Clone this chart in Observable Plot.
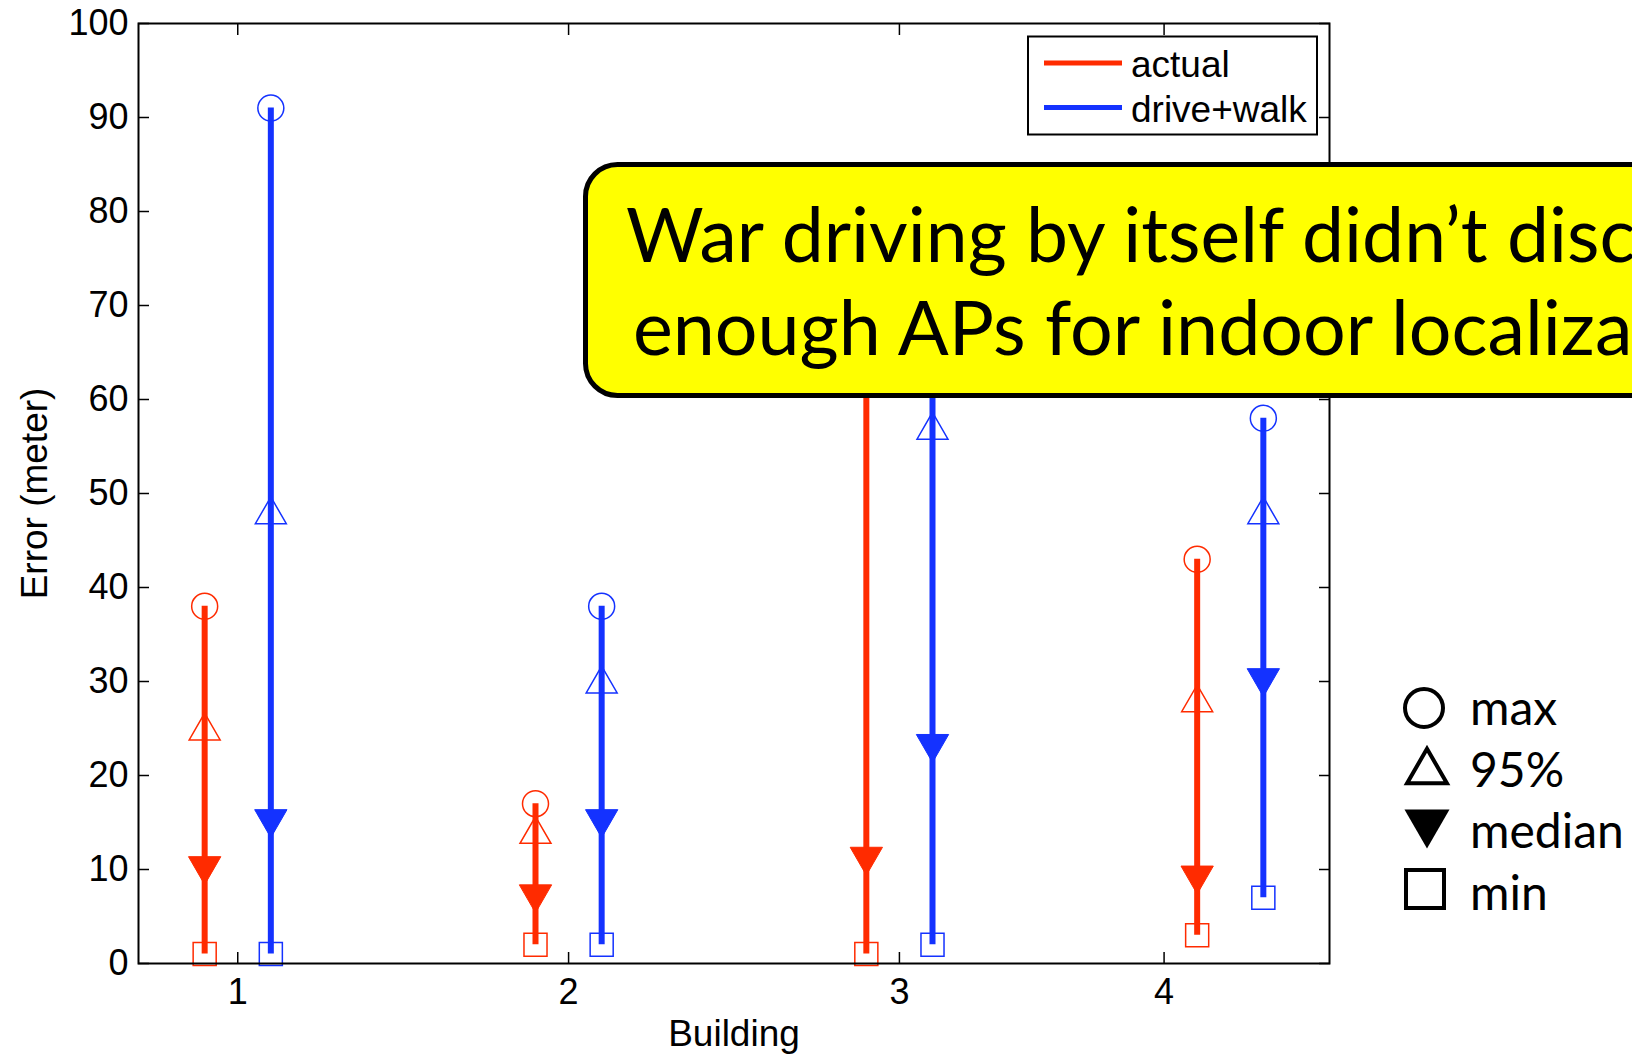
<!DOCTYPE html>
<html>
<head>
<meta charset="utf-8">
<script src="https://cdn.jsdelivr.net/npm/d3@7"></script>
<script src="https://cdn.jsdelivr.net/npm/@observablehq/plot@0.6"></script>
<style>
  html, body { margin: 0; padding: 0; background: #fff; }
  #wrap { position: relative; width: 1632px; height: 1054px; overflow: hidden; background: #fff; }
  #wrap > svg { position: absolute; left: 0; top: 0; }
</style>
</head>
<body>
<div id="wrap"></div>
<script>
// ---- data ----
const buildings = [1, 2, 3, 4];
const seriesNames = ["actual", "drive+walk"];
const seriesColors = ["#ff2b00", "#1432ff"];
const actualMax = [38, 17, 82, 43];
const actual95 = [25, 14, 71, 28];
const actualMedian = [10, 7, 11, 9];
const actualMin = [1, 2, 1, 3];
const driveWalkMax = [91, 38, 74, 58];
const driveWalk95 = [48, 30, 57, 48];
const driveWalkMedian = [15, 15, 23, 30];
const driveWalkMin = [1, 2, 2, 7];
const xTickValues = [1, 2, 3, 3.8];
const xTickLabels = ["1", "2", "3", "4"];
const yTicks = [0, 10, 20, 30, 40, 50, 60, 70, 80, 90, 100];
const xLabel = "Building";
const yLabel = "Error (meter)";
const statNames = ["max", "95%", "median", "min"];
const calloutLines = ["War driving by itself didn\u2019t discover", "enough APs for indoor localization"];

// ---- table ----
const seriesOffset = {"actual": -0.1, "drive+walk": 0.1};
const stats = {
  "actual": {max: actualMax, p95: actual95, median: actualMedian, min: actualMin},
  "drive+walk": {max: driveWalkMax, p95: driveWalk95, median: driveWalkMedian, min: driveWalkMin}
};
const rows = [];
seriesNames.forEach(s => {
  buildings.forEach((b, i) => {
    rows.push({
      building: b, series: s, x: b + seriesOffset[s],
      max: stats[s].max[i], p95: stats[s].p95[i],
      median: stats[s].median[i], min: stats[s].min[i]
    });
  });
});

const W = 1632, H = 1054;
const axisFont = "'Liberation Sans', Arial, Helvetica, sans-serif";

const chart = Plot.plot({
  width: W, height: H,
  marginLeft: 138, marginRight: 303, marginTop: 23, marginBottom: 91,
  style: {fontFamily: axisFont, fontSize: "36px", background: "transparent", color: "#000"},
  x: {domain: [0.7, 4.3], label: null},
  y: {domain: [0, 100], label: null},
  color: {domain: seriesNames, range: seriesColors},
  marks: [
    Plot.ruleX(rows, {x: "x", y1: "min", y2: "max", stroke: "series", strokeWidth: 6}),
    Plot.dot(rows, {x: "x", y: "max", symbol: "circle", r: 13, stroke: "series", fill: "none", strokeWidth: 1.5}),
    Plot.dot(rows, {x: "x", y: "p95", symbol: "triangle", r: 11.5, dy: 2.5, stroke: "series", fill: "none", strokeWidth: 1.5}),
    Plot.dot(rows, {x: "x", y: "median", symbol: "triangle", rotate: 180, r: 12, dy: -3.5, stroke: "series", fill: "series", strokeWidth: 1}),
    Plot.dot(rows, {x: "x", y: "min", symbol: "square", r: 13, stroke: "series", fill: "none", strokeWidth: 1.5}),
    Plot.frame({stroke: "#000", strokeWidth: 2}),
    Plot.axisY(yTicks, {anchor: "left", tickSize: -11, tickPadding: 21, label: null, stroke: "#000", strokeWidth: 1.5}),
    Plot.axisY(yTicks, {anchor: "right", tickSize: -11, tickFormat: () => "", label: null, stroke: "#000", strokeWidth: 1.5}),
    Plot.axisX(xTickValues, {anchor: "bottom", tickSize: -11, tickPadding: 26, label: null, stroke: "#000", strokeWidth: 1.5,
      tickFormat: d => xTickLabels[xTickValues.indexOf(d)]}),
    Plot.axisX(xTickValues, {anchor: "top", tickSize: -11, tickFormat: () => "", label: null, stroke: "#000", strokeWidth: 1.5}),
    Plot.text([xLabel], {frameAnchor: "bottom", dy: 82, text: d => d, fontSize: 37, fill: "#000", textAnchor: "middle"}),
    Plot.text([yLabel], {frameAnchor: "left", dx: -103.5, rotate: -90, text: d => d, fontSize: 37, fill: "#000", textAnchor: "middle", lineAnchor: "middle"})
  ]
});

const wrap = document.getElementById("wrap");
wrap.appendChild(chart);

// ---- overlay: legend, callout, symbol key ----
const svg = d3.select(wrap).append("svg")
  .attr("width", W).attr("height", H)
  .style("overflow", "hidden");

// series legend box
const lg = svg.append("g");
lg.append("rect").attr("x", 1028).attr("y", 36.5).attr("width", 289).attr("height", 98)
  .attr("fill", "#fff").attr("stroke", "#000").attr("stroke-width", 2);
seriesNames.forEach((s, i) => {
  const cy = 63 + i * 44.5;
  lg.append("line").attr("x1", 1044).attr("x2", 1122).attr("y1", cy).attr("y2", cy)
    .attr("stroke", seriesColors[i]).attr("stroke-width", 5);
  lg.append("text").attr("x", 1131).attr("y", cy + 14)
    .style("font-family", axisFont).style("font-size", "37px").attr("fill", "#000").text(s);
});

// callout
const co = svg.append("g");
co.append("rect").attr("x", 585.5).attr("y", 164.5).attr("width", 1300).attr("height", 231)
  .attr("rx", 32).attr("ry", 32).attr("fill", "#ffff00").attr("stroke", "#000").attr("stroke-width", 5);
const calloutPos = [{x: 626, y: 262, prefix: "War driving by itself didn\u2019t ", target: 881},
                    {x: 633, y: 355, prefix: "enough APs for indoor ", target: 758}];
calloutLines.forEach((line, i) => {
  const p = calloutPos[i];
  const t = co.append("text").attr("x", p.x).attr("y", p.y)
    .style("font-family", "Lato, 'Open Sans', sans-serif").style("font-size", "76px")
    .attr("fill", "#000").text(line);
  const node = t.node();
  const full = node.getComputedTextLength();
  const pre = node.getSubStringLength(0, p.prefix.length);
  if (pre > 0) t.attr("textLength", full * p.target / pre).attr("lengthAdjust", "spacingAndGlyphs");
});

// symbol key
const key = svg.append("g");
const keyX = 1425;
const keyRows = [708, 766, 829, 889];
const keyBase = [725, 787, 848, 910];
// max: circle
key.append("circle").attr("cx", keyX - 1).attr("cy", keyRows[0]).attr("r", 19)
  .attr("fill", "none").attr("stroke", "#000").attr("stroke-width", 4);
// 95%: triangle up
{
  const yy = 11.5, size = 3 * Math.sqrt(3) * yy * yy;
  key.append("path").attr("d", d3.symbol(d3.symbolTriangle, size)())
    .attr("transform", `translate(${keyX + 2},${keyRows[1] + yy / 2})`)
    .attr("fill", "none").attr("stroke", "#000").attr("stroke-width", 4).attr("stroke-linejoin", "miter");
}
// median: triangle down filled
{
  const yy = 13, size = 3 * Math.sqrt(3) * yy * yy;
  key.append("path").attr("d", d3.symbol(d3.symbolTriangle, size)())
    .attr("transform", `translate(${keyX + 2},${keyRows[2] - yy / 2}) rotate(180)`)
    .attr("fill", "#000").attr("stroke", "none");
}
// min: square
key.append("rect").attr("x", keyX - 19).attr("y", keyRows[3] - 19).attr("width", 38).attr("height", 38)
  .attr("fill", "none").attr("stroke", "#000").attr("stroke-width", 4);
statNames.forEach((s, i) => {
  key.append("text").attr("x", 1470).attr("y", keyBase[i])
    .style("font-family", "Lato, 'Open Sans', sans-serif").style("font-size", "48px")
    .attr("fill", "#000").text(s);
});
</script>
</body>
</html>
